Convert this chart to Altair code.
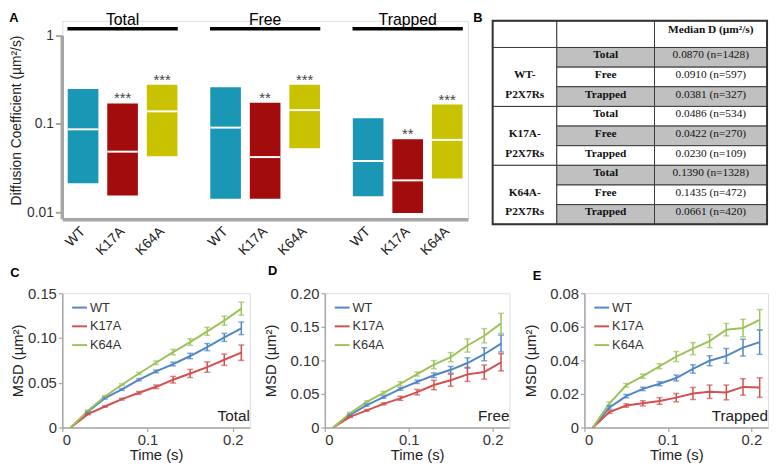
import altair as alt
import pandas as pd

SANS = "Liberation Sans"
SERIF = "Liberation Serif"

genotypes = ["WT", "K17A", "K64A"]
conditions = ["Total", "Free", "Trapped"]

# ---------------- Panel A: diffusion coefficient boxes (um^2/s) ----------------
# order: Total WT, K17A, K64A, Free WT, K17A, K64A, Trapped WT, K17A, K64A
box_low = [0.0213, 0.0155, 0.0430, 0.0142, 0.0142, 0.0532, 0.0152, 0.0098, 0.0242]
box_median = [0.0870, 0.0486, 0.1390, 0.0910, 0.0422, 0.1435, 0.0381, 0.0230, 0.0661]
box_high = [0.249, 0.171, 0.278, 0.260, 0.174, 0.278, 0.116, 0.067, 0.166]
box_stars = ["", "***", "***", "", "**", "***", "", "**", "***"]

# ---------------- Panel B: table ----------------
table_constructs = ["WT-", "K17A-", "K64A-"]
table_suffix = "P2X7Rs"
table_header = "Median D (µm²/s)"
table_values = ["0.0870 (n=1428)", "0.0910 (n=597)", "0.0381 (n=327)",
                "0.0486 (n=534)", "0.0422 (n=270)", "0.0230 (n=109)",
                "0.1390 (n=1328)", "0.1435 (n=472)", "0.0661 (n=420)"]

# ---------------- Panels C-E: MSD curves ----------------
time_s = [0.01, 0.03, 0.05, 0.07, 0.09, 0.11, 0.13, 0.15, 0.17, 0.19, 0.21]

total_wt = [0, 0.0175, 0.0328, 0.0425, 0.0534, 0.0627, 0.0709, 0.0799, 0.0899, 0.1007, 0.1108]
total_wt_err = [0, 0.0008, 0.001, 0.001, 0.0012, 0.0015, 0.002, 0.003, 0.004, 0.0045, 0.007]
total_k17 = [0, 0.0149, 0.0235, 0.0317, 0.0388, 0.0455, 0.0534, 0.0604, 0.0675, 0.0757, 0.0836]
total_k17_err = [0, 0.0006, 0.0008, 0.001, 0.0015, 0.002, 0.0037, 0.0045, 0.0058, 0.0063, 0.0086]
total_k64 = [0, 0.0187, 0.0347, 0.0478, 0.0604, 0.0724, 0.0843, 0.0955, 0.1075, 0.1194, 0.1328]
total_k64_err = [0, 0.0008, 0.001, 0.001, 0.0012, 0.002, 0.003, 0.0037, 0.0045, 0.005, 0.0073]

free_wt = [0, 0.0188, 0.0333, 0.0454, 0.0575, 0.0681, 0.0778, 0.0860, 0.0961, 0.1092, 0.1251]
free_wt_err = [0, 0.0012, 0.0015, 0.0018, 0.002, 0.0025, 0.0035, 0.005, 0.0077, 0.0097, 0.0126]
free_k17 = [0, 0.0159, 0.0256, 0.0353, 0.0435, 0.0527, 0.0633, 0.0705, 0.0792, 0.0826, 0.0971]
free_k17_err = [0, 0.001, 0.0012, 0.0015, 0.003, 0.004, 0.007, 0.009, 0.0105, 0.0105, 0.0128]
free_k64 = [0, 0.0213, 0.0382, 0.0517, 0.0652, 0.0797, 0.0937, 0.1048, 0.1222, 0.1367, 0.1551]
free_k64_err = [0, 0.0012, 0.0015, 0.002, 0.003, 0.003, 0.006, 0.0068, 0.0099, 0.0106, 0.015]

trap_wt = [0, 0.0119, 0.0187, 0.0230, 0.0261, 0.0295, 0.0349, 0.0398, 0.0427, 0.0476, 0.0509]
trap_wt_err = [0, 0.001, 0.001, 0.001, 0.0012, 0.0018, 0.0025, 0.003, 0.0044, 0.005, 0.0073]
trap_k17 = [0, 0.0092, 0.0131, 0.0144, 0.0158, 0.0178, 0.0203, 0.0213, 0.0209, 0.0242, 0.0238]
trap_k17_err = [0, 0.0008, 0.001, 0.0015, 0.002, 0.0025, 0.0036, 0.004, 0.0044, 0.0049, 0.0058]
trap_k64 = [0, 0.0144, 0.0252, 0.0306, 0.0365, 0.0423, 0.0470, 0.0515, 0.0583, 0.0593, 0.0642]
trap_k64_err = [0, 0.0008, 0.001, 0.0012, 0.0015, 0.003, 0.0036, 0.0039, 0.0037, 0.0052, 0.0061]

A_COLORS = ["#1A97B5", "#A30C0C", "#C8C200"]
L_COLORS = ["#4F86C6", "#D2504D", "#9BC35A"]
AXIS_GRAY = "#A6A6A6"

one = pd.DataFrame({"k": [0]})

# ======================= Panel A =======================
A_W, A_H = 411, 201
dfA = pd.DataFrame({
    "cond": [c for c in conditions for _ in genotypes],
    "geno": genotypes * 3,
    "low": box_low, "median": box_median, "high": box_high, "stars": box_stars,
})
a_y = alt.Scale(type="log", domain=[0.00835, 1.47], nice=False)
a_x = alt.Scale(domain=conditions, paddingInner=0.168, paddingOuter=0.007)
a_off = alt.Scale(domain=genotypes, paddingInner=0.225, paddingOuter=0.1125)
xA = alt.X("cond:N", scale=a_x, axis=alt.Axis(labels=False, ticks=False, title=None,
                                              domainColor=AXIS_GRAY, domainWidth=3.5))
xoA = alt.XOffset("geno:N", scale=a_off)
yA_axis = alt.Axis(values=[0.01, 0.1, 1], format="~g", domain=False, tickColor=AXIS_GRAY,
                   tickWidth=2, tickSize=7, labelFontSize=14, labelColor="#333", labelPadding=2,
                   labelOverlap=False,
                   grid=False, title="Diffusion Coefficient (µm²/s)", titleFontSize=14,
                   titleFontWeight="normal", titleColor="#222", titlePadding=3,
                   minExtent=36, maxExtent=36)

baseA = alt.Chart(dfA)
bars = baseA.mark_bar().encode(
    x=xA, xOffset=xoA,
    y=alt.Y("low:Q", scale=a_y, axis=yA_axis), y2="high:Q",
    color=alt.Color("geno:N", scale=alt.Scale(domain=genotypes, range=A_COLORS), legend=None))
med = baseA.mark_tick(color="white", thickness=2, size=31, opacity=1).encode(
    x=xA, xOffset=xoA, y=alt.Y("median:Q"))
stars = baseA.mark_text(baseline="alphabetic", fontSize=15, color="#444").encode(
    x=xA, xOffset=xoA, y=alt.Y("high:Q"), text="stars:N")
glabels = baseA.mark_text(angle=315, align="right", baseline="middle", fontSize=14,
                          color="#222").encode(
    x=xA, xOffset=xoA, y=alt.datum(0.0064), text="geno:N")
hdr = alt.Chart(pd.DataFrame({"cond": conditions}))
hdr_bar = hdr.mark_bar(color="black", width={"band": 0.93}).encode(
    x=xA, y=alt.datum(1.145), y2=alt.datum(1.252))
hdr_txt = hdr.mark_text(fontSize=16, color="black", baseline="middle").encode(
    x=xA, y=alt.datum(1.508), text="cond:N")
yline = alt.Chart(one).mark_rule(color=AXIS_GRAY, strokeWidth=3.5).encode(
    x=alt.value(0), y=alt.datum(0.00835), y2=alt.datum(1.0))
letterA = alt.Chart(one).mark_text(fontWeight="bold", fontSize=13, color="black").encode(
    x=alt.value(-49), y=alt.value(-2.5), text=alt.value("A"))

panelA = alt.layer(bars, med, stars, glabels, hdr_bar, hdr_txt, yline, letterA).properties(
    width=A_W, height=A_H)

# ======================= Panel B =======================
col_w = [65, 99, 114]
hdr_h, row_h = 27, 19.9
col_e = [0, col_w[0], col_w[0] + col_w[1], sum(col_w)]
row_e = [0, hdr_h] + [hdr_h + row_h * (i + 1) for i in range(9)]
T_W, T_H = col_e[-1], 206

cells = []
for c in range(3):
    cells.append(dict(x=col_e[c], x2=col_e[c + 1], y=row_e[0], y2=row_e[1], fill="white"))
for gi in range(3):
    cells.append(dict(x=col_e[0], x2=col_e[1], y=row_e[1 + 3 * gi], y2=row_e[4 + 3 * gi], fill="white"))
for r in range(9):
    f = "#C0C0C0" if r % 2 == 0 else "white"
    for c in (1, 2):
        cells.append(dict(x=col_e[c], x2=col_e[c + 1], y=row_e[1 + r], y2=row_e[2 + r], fill=f))
dfCells = pd.DataFrame(cells)

bold_txt, reg_txt = [], []
def rc(r):
    return (row_e[1 + r] + row_e[2 + r]) / 2
for r in range(9):
    bold_txt.append(dict(x=(col_e[1] + col_e[2]) / 2, y=rc(r), t=conditions[r % 3]))
    reg_txt.append(dict(x=(col_e[2] + col_e[3]) / 2, y=rc(r), t=table_values[r]))
for gi in range(3):
    bold_txt.append(dict(x=(col_e[0] + col_e[1]) / 2, y=rc(3 * gi + 1), t=table_constructs[gi]))
    bold_txt.append(dict(x=(col_e[0] + col_e[1]) / 2, y=rc(3 * gi + 2), t=table_suffix))
bold_txt.append(dict(x=(col_e[2] + col_e[3]) / 2, y=(row_e[0] + row_e[1]) / 2 - 2, t=table_header))

tx = alt.Scale(domain=[0, T_W], nice=False)
ty = alt.Scale(domain=[0, T_H], nice=False, reverse=True)
rects = alt.Chart(dfCells).mark_rect(stroke="#3a3a3a", strokeWidth=1).encode(
    x=alt.X("x:Q", scale=tx, axis=None), x2="x2:Q",
    y=alt.Y("y:Q", scale=ty, axis=None), y2="y2:Q",
    fill=alt.Fill("fill:N", scale=None))
border = alt.Chart(pd.DataFrame({"x": [0], "x2": [T_W], "y": [0], "y2": [row_e[-1]]})).mark_rect(
    fill=None, stroke="#333", strokeWidth=2).encode(
    x=alt.X("x:Q", scale=tx, axis=None), x2="x2:Q",
    y=alt.Y("y:Q", scale=ty, axis=None), y2="y2:Q")
btxt = alt.Chart(pd.DataFrame(bold_txt)).mark_text(font=SERIF, fontWeight="bold", fontSize=11.5,
                                                   color="#111", dy=-2).encode(
    x=alt.X("x:Q", scale=tx, axis=None), y=alt.Y("y:Q", scale=ty, axis=None), text="t:N")
rtxt = alt.Chart(pd.DataFrame(reg_txt)).mark_text(font=SERIF, fontSize=11.5, color="#111", dy=-2).encode(
    x=alt.X("x:Q", scale=tx, axis=None), y=alt.Y("y:Q", scale=ty, axis=None), text="t:N")
letterB = alt.Chart(one).mark_text(fontWeight="bold", fontSize=13, color="black").encode(
    x=alt.value(-15), y=alt.value(-2.5), text=alt.value("B"))
panelB = alt.layer(rects, border, btxt, rtxt, letterB).properties(width=T_W, height=T_H)


# ======================= Panels C-E =======================
def msd_panel(series, errs, ymax, yticks, width, corner, letter, lxy, title_pad):
    rows = []
    for g, vals, es in zip(genotypes, series, errs):
        for t, v, e in zip(time_s, vals, es):
            rows.append({"t": t, "msd": v, "lo": v - e, "hi": v + e, "err": e, "geno": g})
    df = pd.DataFrame(rows)
    H = 136
    xs = alt.Scale(domain=[0, 0.22], nice=False)
    ys = alt.Scale(domain=[0, ymax], nice=False)
    xax = alt.Axis(values=[0, 0.1, 0.2],
                   labelExpr="datum.value == 0 ? '0' : format(datum.value, '.1f')",
                   title="Time (s)", titleFontSize=15, titleFontWeight="normal", titleColor="#222",
                   titlePadding=0, labelFontSize=15, labelColor="#333", labelPadding=1,
                   labelOverlap=False,
                   domainColor=AXIS_GRAY, domainWidth=1.5, tickColor=AXIS_GRAY, tickSize=4,
                   tickWidth=1.2, grid=False)
    yax = alt.Axis(values=yticks,
                   labelExpr="datum.value == 0 ? '0' : format(datum.value, '.2f')",
                   title="MSD (µm²)", titleFontSize=15, titleFontWeight="normal", titleColor="#222",
                   titlePadding=title_pad, labelFontSize=15, labelColor="#333", labelPadding=2,
                   labelOverlap=False,
                   domainColor=AXIS_GRAY, domainWidth=1.5, tickColor=AXIS_GRAY, tickSize=4,
                   tickWidth=1.2, grid=False, minExtent=35, maxExtent=35)
    cscale = alt.Scale(domain=genotypes, range=L_COLORS)
    base = alt.Chart(df)
    lines = base.mark_line(strokeWidth=2).encode(
        x=alt.X("t:Q", scale=xs, axis=xax),
        y=alt.Y("msd:Q", scale=ys, axis=yax),
        color=alt.Color("geno:N", scale=cscale, sort=genotypes,
                        legend=alt.Legend(title=None, orient="none", legendX=9, legendY=6,
                                          symbolType="stroke", symbolSize=225,
                                          symbolStrokeWidth=2, labelFontSize=13,
                                          labelColor="#333", rowPadding=3, labelOffset=2,
                                          padding=0)))
    ebars = base.transform_filter("datum.err > 0").mark_errorbar(
        ticks=True, size=6, thickness=1.5).encode(
        x=alt.X("t:Q", scale=xs, axis=xax),
        y=alt.Y("lo:Q", scale=ys, axis=yax), y2="hi:Q",
        color=alt.Color("geno:N", scale=cscale, legend=None))
    corner_txt = alt.Chart(one).mark_text(align="right", baseline="alphabetic", fontSize=15.5,
                                          color="#222").encode(
        x=alt.value(width), y=alt.value(H - 7), text=alt.value(corner))
    let = alt.Chart(one).mark_text(fontWeight="bold", fontSize=13, color="black").encode(
        x=alt.value(lxy[0]), y=alt.value(lxy[1]), text=alt.value(letter))
    return alt.layer(lines, ebars, corner_txt, let).properties(width=width, height=H)


panelC = msd_panel([total_wt, total_k17, total_k64], [total_wt_err, total_k17_err, total_k64_err],
                   0.15, [0, 0.05, 0.10, 0.15], 190, "Total", "C", (-48, -20), 2)
panelD = msd_panel([free_wt, free_k17, free_k64], [free_wt_err, free_k17_err, free_k64_err],
                   0.20, [0, 0.05, 0.10, 0.15, 0.20], 187, "Free", "D", (-53, -23), 12)
panelE = msd_panel([trap_wt, trap_k17, trap_k64], [trap_wt_err, trap_k17_err, trap_k64_err],
                   0.08, [0, 0.02, 0.04, 0.06, 0.08], 186, "Trapped", "E", (-48, -17), 12)

top = alt.hconcat(panelA, panelB, spacing=25, bounds="flush").resolve_scale(color="independent")
bottom = alt.hconcat(panelC, panelD, panelE, spacing=76, bounds="flush").resolve_scale(
    color="independent")

chart = alt.vconcat(top, bottom, spacing=4).resolve_scale(color="independent").properties(
    padding={"left": 0, "top": 0, "right": 2, "bottom": 2}
).configure_view(stroke=None).configure(font=SANS)

chart.save("out.html", embed_options={"renderer": "svg", "actions": False})
